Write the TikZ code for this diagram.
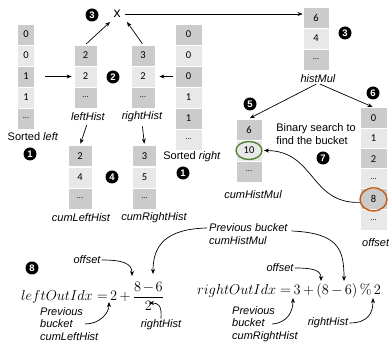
\documentclass[tikz,border=0pt]{standalone}
\usepackage[no-math]{fontspec}
\setmainfont{Liberation Sans}
\newfontfamily\cellfont{Carlito}
\usetikzlibrary{arrows.meta}
\definecolor{cD}{RGB}{203,203,203}
\definecolor{cL}{RGB}{232,232,232}
\definecolor{ringG}{RGB}{84,130,53}
\definecolor{ringO}{RGB}{197,90,17}
\newcommand\celldots{{\fontsize{8}{8}\selectfont...}}
\begin{document}
\begin{tikzpicture}[x=1pt,y=-1pt,
  cell/.style={draw=white, line width=0.8pt, inner sep=0pt, minimum height=21pt, font=\cellfont\fontsize{10.5}{12}\selectfont},
  dk/.style={cell, fill=cD},
  lt/.style={cell, fill=cL},
  lbl/.style={font=\fontsize{11}{12.5}\selectfont\itshape, inner sep=0pt},
  lblu/.style={font=\fontsize{11}{13}\selectfont, inner sep=0pt},
  num/.style={circle, fill=black, text=white, inner sep=0pt, minimum size=13pt, font=\fontsize{9.5}{9.5}\selectfont\bfseries},
  arr/.style={-{Stealth[length=5pt,width=4pt]}, line width=0.7pt},
  ring/.style={line width=1.4pt},
  frm/.style={anchor=base west, inner sep=0pt, font=\fontsize{14}{16}\selectfont}]
\useasboundingbox (0,0) rectangle (389,352);
% sorted left
\begin{scope}[every node/.append style={minimum width=17pt}]
\node[dk] (sl1) at (26,34.5) {0};
\node[lt] (sl2) at (26,55.5) {0};
\node[dk] (sl3) at (26,76.5) {1};
\node[lt] (sl4) at (26,97.5) {1};
\node[dk] (sl5) at (26,118.5) {\celldots};
\end{scope}
% leftHist
\begin{scope}[every node/.append style={minimum width=23pt}]
\node[dk] (lh1) at (85.5,55.5) {2};
\node[lt] (lh2) at (85.5,76.5) {2};
\node[dk] (lh3) at (85.5,97.5) {\celldots};
\end{scope}
% rightHist
\begin{scope}[every node/.append style={minimum width=24pt}]
\node[dk] (rh1) at (143,55.5) {3};
\node[lt] (rh2) at (143,76.5) {2};
\node[dk] (rh3) at (143,97.5) {\celldots};
\end{scope}
% sorted right
\begin{scope}[every node/.append style={minimum width=27pt}]
\node[dk] (sr1) at (188.5,34.5) {0};
\node[lt] (sr2) at (188.5,55.5) {0};
\node[dk] (sr3) at (188.5,76.5) {0};
\node[lt] (sr4) at (188.5,97.5) {1};
\node[dk] (sr5) at (188.5,118.5) {1};
\node[lt] (sr6) at (188.5,139.5) {\celldots};
\end{scope}
% cumLeftHist / cumRightHist
\begin{scope}[every node/.append style={minimum width=24pt}]
\node[dk] (cl1) at (80,156) {2};
\node[lt] (cl2) at (80,177.5) {4};
\node[dk] (cl3) at (80,198.5) {\celldots};
\node[dk] (cr1) at (144.5,156) {3};
\node[lt] (cr2) at (144.5,177.5) {5};
\node[dk] (cr3) at (144.5,198.5) {\celldots};
\end{scope}
% histMul / cumHistMul
\begin{scope}[every node/.append style={minimum width=26pt}]
\node[dk] (hm1) at (316,17.5) {6};
\node[lt] (hm2) at (316,38.5) {4};
\node[dk] (hm3) at (316,59.5) {\celldots};
\node[dk] (ch1) at (249,129.5) {6};
\node[lt] (ch2) at (249,150.5) {10};
\node[dk] (ch3) at (249,171.5) {\celldots};
\end{scope}
% offset
\begin{scope}[every node/.append style={minimum width=27pt, minimum height=20.3pt}]
\node[dk] (of1) at (373.5,118.2) {0};
\node[lt] (of2) at (373.5,138.5) {1};
\node[dk] (of3) at (373.5,158.8) {2};
\node[lt] (of4) at (373.5,179.1) {\celldots};
\node[dk] (of5) at (373.5,199.4) {8};
\node[lt] (of6) at (373.5,219.7) {\celldots};
\end{scope}
% labels
\node[lblu] (slL) at (33,137) {Sorted \textit{left}};
\node[lblu] (srL) at (192,157) {Sorted \textit{right}};
\node[lbl] (lhL) at (88,117) {leftHist};
\node[lbl] (rhL) at (142,117) {rightHist};
\node[lbl] (clL) at (81,218) {cumLeftHist};
\node[lbl] (crL) at (154,218) {cumRightHist};
\node[lbl] (hmL) at (318,79) {histMul};
\node[lbl] (chL) at (253,195) {cumHistMul};
\node[lbl, anchor=west] (ofL) at (362,243) {offset};
\node[lblu, align=left] (bs) at (316,134) {Binary search to\\find the bucket};
\node[inner sep=1pt, font=\fontsize{14}{14}\selectfont] (xop) at (117,14) {x};
% step numbers
\node[num] (n1a) at (30,154) {1};
\node[num] (n1b) at (183,173) {1};
\node[num] (n2) at (113,77) {2};
\node[num] (n3a) at (92,15) {3};
\node[num] (n3b) at (345,33) {3};
\node[num] (n4) at (112,177) {4};
\node[num] (n5) at (250,104) {5};
\node[num] (n6) at (373,93) {6};
\node[num] (n7) at (323,158) {7};
\node[num] (n8) at (32,268) {8};
% top arrows
\coordinate (xinL) at (110,22);
\coordinate (xinR) at (127,22);
\draw[arr, shorten <=10pt, shorten >=2pt] (sl3.east) -- (lh2.west);
\draw[arr, shorten <=2pt, shorten >=4pt] (sr3.west) -- (rh2.east);
\draw[arr, shorten <=1pt] (lh1.north) -- (xinL);
\draw[arr, shorten <=1pt] (rh1.north) -- (xinR);
\draw[arr, shorten <=3pt] (xop.east) -- (xop.east -| hm1.west);
\draw[arr, shorten <=4pt, shorten >=1.5pt] (lhL.south) -- (cl1.north);
\draw[arr, shorten <=4pt, shorten >=1.5pt] (rhL.south) -- (cr1.north);
\draw[arr, shorten <=2pt, shorten >=1pt] (hmL.south) -- (ch1.north);
\draw[arr, shorten <=2pt, shorten >=1pt] (hmL.south) -- (of1.north);
% rings and search arrow
\draw[ring, draw=ringG] (ch2.center) ellipse [x radius=13pt, y radius=9pt];
\draw[ring, draw=ringO] (of5.center) ellipse [x radius=13.5pt, y radius=11.5pt];
\draw[arr] ([xshift=-13.5pt,yshift=-3pt]of5.center) .. controls (310,204) and (315,151) .. ([xshift=15pt]ch2.center);
% formulas
\node[frm] (fL) at (21,301) {$\displaystyle leftOutIdx\mathord{\;}{=}\,2\,{+}\,\frac{8\mkern2mu{-}\mkern2mu6}{2}$};
\node[frm] (fR) at (197,295) {$rightOutIdx\mathord{\;}{=}\,3\,{+}\,(8\,{-}\,6)\,{\%}\,2$};
\node[lbl] (ofA) at (87,260) {offset};
\node[lbl, align=left, anchor=west] (pbM) at (209,234) {Previous bucket\\cumHistMul};
\node[lbl, align=left, anchor=west] (pbL) at (40,324) {Previous\\bucket\\cumLeftHist};
\node[lbl] (rhA) at (161,325) {rightHist};
\node[lbl] (ofB) at (280,268) {offset};
\node[lbl, align=left, anchor=west] (pbR) at (232,324) {Previous\\bucket\\cumRightHist};
\node[lbl] (rhB) at (328,323) {rightHist};
\coordinate (t8L) at (132,276);
\coordinate (t6L) at (153,274);
\coordinate (t2L) at (109,302);
\coordinate (t2dL) at (149,303);
\coordinate (t8R) at (321,281);
\coordinate (t6R) at (344,281);
\coordinate (t3R) at (293,298);
\coordinate (t2R) at (373,298);
\draw[arr] ([xshift=1pt]ofA.east) .. controls (122,260) and (132,263) .. (t8L);
\draw[arr] ([xshift=-2pt,yshift=6pt]pbM.west) .. controls (166,229) and (153,245) .. (t6L);
\draw[arr] ([xshift=4pt,yshift=3pt]pbM.east) .. controls (339,233) and (344,250) .. (t6R);
\draw[arr] ([xshift=45pt]pbL.west) .. controls (100,324) and (109,313) .. (t2L);
\draw[arr] ([yshift=1pt]rhA.north) .. controls (162,305) and (158,303) .. (t2dL);
\draw[arr] ([xshift=1pt]ofB.east) .. controls (313,268) and (321,270) .. (t8R);
\draw[arr] ([xshift=40pt]pbR.west) .. controls (287,323) and (293,312) .. (t3R);
\draw[arr] ([xshift=1pt]rhB.east) .. controls (369,323) and (373,312) .. (t2R);
\end{tikzpicture}
\end{document}
